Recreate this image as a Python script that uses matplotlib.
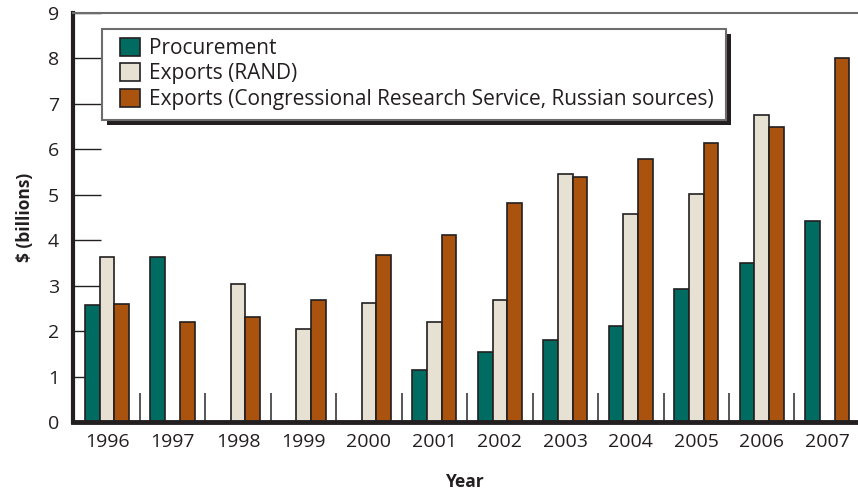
import matplotlib
matplotlib.use('Agg')
import matplotlib.pyplot as plt
from matplotlib.patches import Rectangle
import numpy as np

# ------------------- DATA -------------------
years = ['1996', '1997', '1998', '1999', '2000', '2001',
         '2002', '2003', '2004', '2005', '2006', '2007']
procurement = [2.58, 3.62, None, None, None, 1.14, 1.53, 1.80, 2.12, 2.92, 3.49, 4.42]
exports_rand = [3.64, None, 3.04, 2.05, 2.61, 2.19, 2.68, 5.45, 4.58, 5.01, 6.75, None]
exports_crs = [2.60, 2.21, 2.30, 2.69, 3.67, 4.11, 4.83, 5.39, 5.78, 6.13, 6.50, 8.00]

labels = ['Procurement', 'Exports (RAND)',
          'Exports (Congressional Research Service, Russian sources)']
colors = ['#006B60', '#E6E1D2', '#AA530F']
edge = '#231F20'

plt.rcParams['font.family'] = ['Open Sans', 'DejaVu Sans']

# ------------------- PLOT -------------------
fig = plt.figure(figsize=(8.58, 4.93), dpi=100)
ax = fig.add_axes([73 / 858, 71 / 493, 785 / 858, 409 / 493])

x = np.arange(len(years))
w = 0.225
series = [procurement, exports_rand, exports_crs]
for i, (vals, lab, col) in enumerate(zip(series, labels, colors)):
    xs = [xi + (i - 1) * w for xi, v in zip(x, vals) if v is not None]
    vs = [v for v in vals if v is not None]
    ax.bar(xs, vs, width=w, color=col, edgecolor=edge, linewidth=1.2, label=lab, zorder=2)

ax.set_xlim(-0.52, 11.47)
ax.set_ylim(0, 9)
ax.set_yticks(range(0, 10))
ax.set_xticks(x)
ax.set_xticklabels(years)
ax.set_xticks(x[:-1] + 0.5, minor=True)

ax.tick_params(axis='y', direction='in', length=20, width=1.0, color=edge,
               labelsize=14, pad=10, labelcolor='#231F20')
ax.tick_params(axis='x', which='major', length=0, labelsize=14, pad=8, labelcolor='#231F20')
ax.tick_params(axis='x', which='minor', direction='in', length=21, width=1.2, color='#3a3a3a')

ax.spines['right'].set_visible(False)
ax.spines['top'].set_color('#6d6d6d')
ax.spines['top'].set_linewidth(1.5)
ax.spines['left'].set_color(edge)
ax.spines['left'].set_linewidth(3)
ax.spines['bottom'].set_color(edge)
ax.spines['bottom'].set_linewidth(3.5)

ax.set_ylabel('$ (billions)', fontsize=12.5, fontweight='bold', labelpad=10, color='#231F20')
ax.set_xlabel('Year', fontsize=12.5, fontweight='bold', labelpad=16, color='#231F20')

# legend without its own frame; box and shadow drawn below
leg = ax.legend(loc='upper left', bbox_to_anchor=((120 - 73) / 785, (422 - 38) / 409),
                fontsize=15, frameon=False,
                handlelength=0.95, handleheight=0.95, handletextpad=0.45,
                labelspacing=0.2, borderpad=0, borderaxespad=0)
leg.set_zorder(6)
for t in leg.get_texts():
    t.set_color('#231F20')
for h in leg.legend_handles:
    h.set_linewidth(1.2)

fig.canvas.draw()
bb = leg.get_window_extent()
x0, x1 = bb.x0 - 18, bb.x1 + 12
y0, y1 = bb.y0 - 10, bb.y1 + 9
shadow = Rectangle((x0 + 5, y0 - 5), x1 - x0, y1 - y0, transform=None,
                   facecolor=edge, edgecolor='none', zorder=4)
box = Rectangle((x0, y0), x1 - x0, y1 - y0, transform=None,
                facecolor='white', edgecolor='#6d6d6d', linewidth=1.5, zorder=5)
ax.add_artist(shadow)
ax.add_artist(box)

fig.savefig('out.png', dpi=100)
